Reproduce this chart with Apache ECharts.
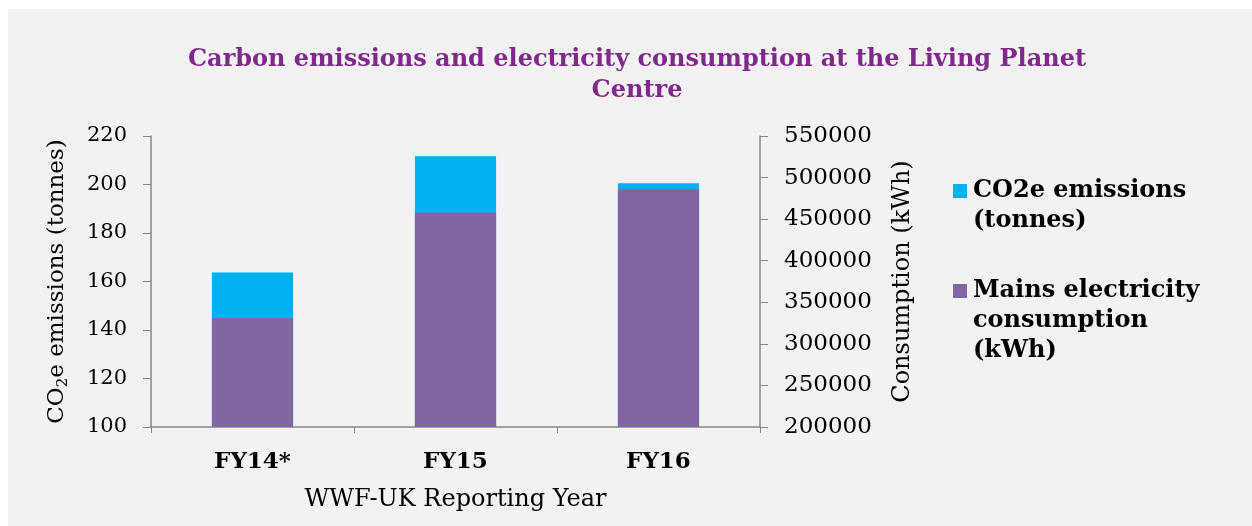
<!DOCTYPE html>
<html>
<head>
<meta charset="utf-8">
<script src="https://cdn.jsdelivr.net/npm/echarts@6/dist/echarts.min.js"></script>
<style>
  html, body { margin: 0; padding: 0; background: #fff; }
  #chart { width: 1252px; height: 526px; }
</style>
</head>
<body>
<div id="chart"></div>
<script>
// data
const years = ['FY14*', 'FY15', 'FY16']
const co2Tonnes = [163.7, 211.6, 200.5]
const mainsKwh = [331000, 458000, 486000]
const leftTicks = { min: 100, max: 220, step: 20 }
const rightTicks = { min: 200000, max: 550000, step: 50000 }
const seriesNames = ['CO2e emissions\n(tonnes)', 'Mains electricity\nconsumption\n(kWh)']
const seriesColors = ['#00b0f0', '#8266a3']

const serif = 'DejaVu Serif'
const axisGrey = '#868686'

// legend drawn by hand so the swatch sits on the first line of wrapped text
const legendItems = seriesNames.map((txt, i) => ({
  type: 'group',
  left: 953,
  top: 176 + i * 100,
  children: [
    { type: 'rect', shape: { x: 0, y: 8, width: 14, height: 14 }, style: { fill: seriesColors[i] } },
    {
      type: 'text', x: 20, y: 0,
      style: {
        text: txt, fill: '#000', font: 'bold 24px "DejaVu Serif"',
        lineHeight: 30, verticalAlign: 'top'
      }
    }
  ]
}))

const myChart = echarts.init(document.getElementById('chart'))
myChart.setOption({
  backgroundColor: '#ffffff',
  animation: false,
  graphic: [
    {
      type: 'rect', z: -10, silent: true,
      shape: { x: 8, y: 9, width: 1244, height: 517 },
      style: { fill: '#f2f2f2' }
    }
  ].concat(legendItems),
  title: {
    text: 'Carbon emissions and electricity consumption at the Living Planet\nCentre',
    left: 632,
    top: 39,
    textAlign: 'center',
    textStyle: {
      fontFamily: serif, fontWeight: 'bold', fontSize: 24,
      color: '#7f2a8a', lineHeight: 31
    }
  },
  grid: { left: 151, right: 492, top: 136, bottom: 99, containLabel: false },
  xAxis: {
    type: 'category',
    data: years,
    axisLine: { lineStyle: { color: axisGrey, width: 1.5 } },
    axisTick: { show: true, length: 6, lineStyle: { color: axisGrey } },
    axisLabel: { fontFamily: serif, fontWeight: 'bold', fontSize: 23, color: '#000', margin: 24 },
    name: 'WWF-UK Reporting Year',
    nameLocation: 'middle',
    nameGap: 61,
    nameTextStyle: { fontFamily: serif, fontSize: 24, color: '#000' }
  },
  yAxis: [
    {
      type: 'value',
      position: 'left',
      min: leftTicks.min, max: leftTicks.max, interval: leftTicks.step,
      splitLine: { show: false },
      axisLine: { show: true, lineStyle: { color: axisGrey, width: 1.5 } },
      axisTick: { show: true, length: 8, lineStyle: { color: axisGrey } },
      axisLabel: { fontFamily: serif, fontSize: 21, color: '#000', margin: 24 },
      name: '{a|CO}{s|2}{a|e emissions (tonnes)}',
      nameLocation: 'middle',
      nameRotate: 90,
      nameGap: 80,
      nameTextStyle: {
        rich: {
          a: { fontFamily: serif, fontSize: 23, color: '#000', lineHeight: 28 },
          s: { fontFamily: serif, fontSize: 15, color: '#000', lineHeight: 15, verticalAlign: 'bottom', padding: [10, 0, 0, 0] }
        }
      }
    },
    {
      type: 'value',
      position: 'right',
      min: rightTicks.min, max: rightTicks.max, interval: rightTicks.step,
      splitLine: { show: false },
      axisLine: { show: true, lineStyle: { color: axisGrey, width: 1.5 } },
      axisTick: { show: true, length: 8, lineStyle: { color: axisGrey } },
      axisLabel: { fontFamily: serif, fontSize: 23, color: '#000', margin: 24, formatter: v => String(v) },
      name: 'Consumption (kWh)',
      nameLocation: 'middle',
      nameRotate: 90,
      nameGap: 131,
      nameTextStyle: { fontFamily: serif, fontSize: 24, color: '#000' }
    }
  ],
  series: [
    {
      name: 'CO2e emissions (tonnes)',
      type: 'bar',
      yAxisIndex: 0,
      data: co2Tonnes,
      barWidth: '40%',
      barGap: '-100%',
      itemStyle: { color: seriesColors[0] }
    },
    {
      name: 'Mains electricity consumption (kWh)',
      type: 'bar',
      yAxisIndex: 1,
      data: mainsKwh,
      barWidth: '40%',
      itemStyle: { color: seriesColors[1] }
    }
  ]
})
</script>
</body>
</html>
